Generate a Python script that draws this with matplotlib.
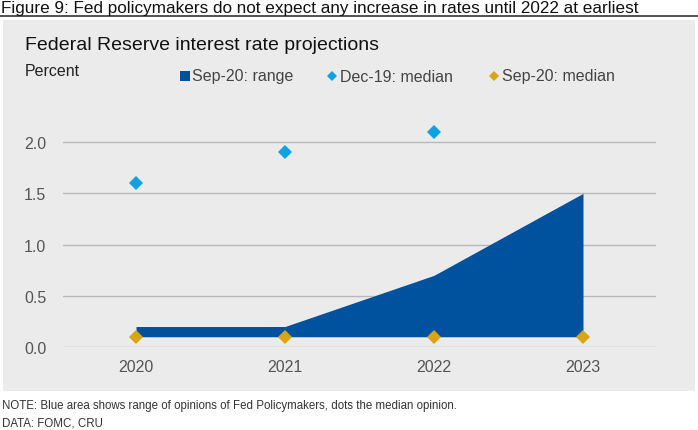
import numpy as np
import matplotlib.pyplot as plt
from matplotlib.patches import Rectangle
from matplotlib.lines import Line2D

plt.rcParams['font.family'] = ['Liberation Sans', 'DejaVu Sans']

# data
years = ['2020', '2021', '2022', '2023']
range_low = [0.1, 0.1, 0.1, 0.1]
range_high = [0.2, 0.2, 0.7, 1.5]
dec19_median = [1.6, 1.9, 2.1]
sep20_median = [0.1, 0.1, 0.1, 0.1]
yticks = [0.0, 0.5, 1.0, 1.5, 2.0]

BLUE = '#00519e'
LIGHT = '#0ea2e0'
GOLD = '#d9a514'

W, H = 698, 431
fig = plt.figure(figsize=(W / 100, H / 100), dpi=100)

# grey panel behind the chart
fig.patches.append(Rectangle((3 / W, 1 - 392 / H), 692 / W, 371 / H,
                             transform=fig.transFigure, facecolor='#ebebeb',
                             edgecolor='none', zorder=-5))
# rule under the figure title
fig.add_artist(Line2D([0, 1], [1 - 17 / H, 1 - 17 / H], color='#333333', lw=1.2))

fig.text(1 / W, 1 - 8 / H, 'Figure 9: Fed policymakers do not expect any increase in rates until 2022 at earliest',
         fontsize=12.3, va='center', ha='left', color='#111111')
fig.text(25 / W, 1 - 45 / H, 'Federal Reserve interest rate projections',
         fontsize=14, va='center', ha='left', color='#111111')
fig.text(25 / W, 1 - 71 / H, 'Percent', fontsize=11.5, va='center', ha='left', color='#222222')
fig.text(2 / W, 1 - 406 / H, 'NOTE: Blue area shows range of opinions of Fed Policymakers, dots the median opinion.',
         fontsize=8.3, va='center', ha='left', color='#333333')
fig.text(2 / W, 1 - 424 / H, 'DATA: FOMC, CRU', fontsize=8.3, va='center', ha='left', color='#333333')

ax = fig.add_axes([63 / W, 1 - 348 / H, 593 / W, 256 / H])
ax.set_zorder(2)
ax.set_facecolor('none')
x = np.arange(len(years))

ax.fill_between(x, range_low, range_high, color=BLUE, lw=0, zorder=2)
ax.plot(x[:len(dec19_median)], dec19_median, 'D', color=LIGHT, ms=7, mew=0, zorder=3)
ax.plot(x, sep20_median, 'D', color=GOLD, ms=7, mew=0, zorder=3, clip_on=False)

ax.set_xlim(-0.49, 3.49)
ax.set_ylim(0, 2.5)
ax.set_xticks(x)
ax.set_xticklabels(years)
ax.set_yticks(yticks)
ax.set_yticklabels([f'{v:.1f}' for v in yticks])
ax.tick_params(length=0, labelsize=11.5, labelcolor='#555555')
ax.tick_params(axis='x', pad=9)
ax.tick_params(axis='y', pad=12)
for s in ax.spines.values():
    s.set_visible(False)
ax.grid(axis='y', color='#b8b8b8', lw=1, zorder=1)
ax.set_axisbelow(True)

# legend drawn by hand to match spacing
leg_y = 1 - 77 / H
items = [(185, 's', BLUE, 192, 'Sep-20: range'),
         (332, 'D', LIGHT, 340, 'Dec-19: median'),
         (494, 'D', GOLD, 502, 'Sep-20: median')]
for mx, mk, col, tx, label in items:
    fig.add_artist(Line2D([mx / W], [leg_y], marker=mk, color=col, ls='none', mew=0,
                          ms=6.5 if mk == 's' else 5.5))
    fig.text(tx / W, leg_y, label, fontsize=11.5, va='center', ha='left', color='#444444')

fig.savefig('out.png', dpi=100)
